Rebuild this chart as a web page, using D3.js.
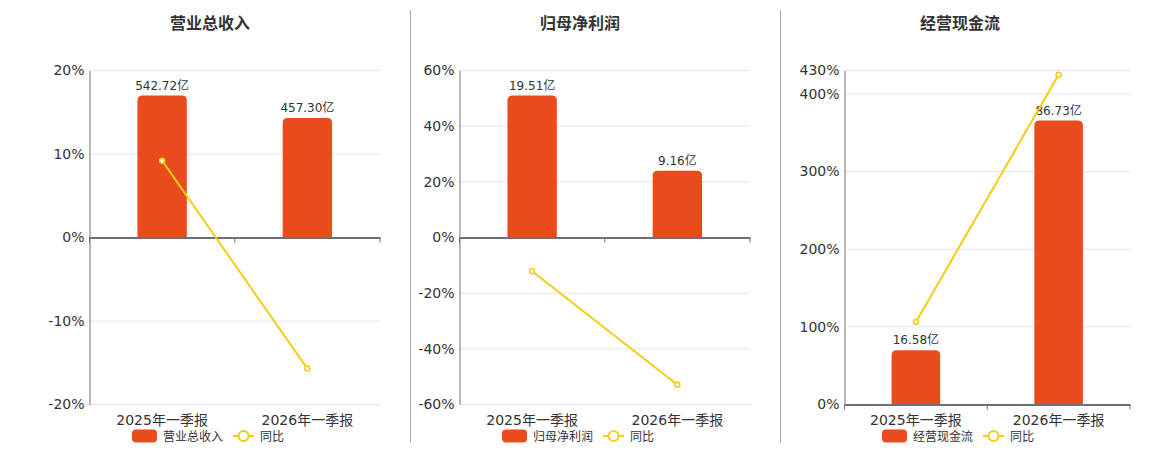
<!DOCTYPE html>
<html>
<head>
<meta charset="utf-8">
<script src="https://cdn.jsdelivr.net/npm/d3@7"></script>
<style>
  body { margin: 0; background: #fff; }
  svg { display: block; font-family: "DejaVu Sans", "Noto Sans CJK SC", sans-serif; }
</style>
</head>
<body>
<svg id="chart" width="1160" height="450"></svg>
<script>
// data
const categories = ["2025年一季报", "2026年一季报"];
const titles = ["营业总收入", "归母净利润", "经营现金流"];
const legendBar = ["营业总收入", "归母净利润", "经营现金流"];
const legendLine = "同比";

const revenue = [542.72, 457.30];
const revenueYoy = [9.2, -15.7];
const netProfit = [19.51, 9.16];
const netProfitYoy = [-12.1, -52.9];
const cashFlow = [16.58, 86.73];
const cashFlowYoy = [106.2, 424.5];

const ticks1 = [-20, -10, 0, 10, 20];
const ticks2 = [-60, -40, -20, 0, 20, 40, 60];
const ticks3 = [0, 100, 200, 300, 400, 430];

// layout of the three panels
const layout = [
  { left: 89.5, right: 380, center: 210 },
  { left: 459.5, right: 750, center: 580 },
  { left: 844.5, right: 1130, center: 960 },
];
const dividers = [410.5, 780.5];
const plotTop = 70.5, plotBottom = 404.5;

const barColor = "#e84c1c";
const lineColor = "#f4cd12";

const panels = [
  { bars: revenue, yoy: revenueYoy, ticks: ticks1 },
  { bars: netProfit, yoy: netProfitYoy, ticks: ticks2 },
  { bars: cashFlow, yoy: cashFlowYoy, ticks: ticks3 },
];

const svg = d3.select("#chart");

svg.selectAll(".divider")
  .data(dividers)
  .enter()
  .append("line")
  .attr("x1", d => d).attr("x2", d => d)
  .attr("y1", 10).attr("y2", 443)
  .attr("stroke", "#aaa")
  .attr("stroke-width", 1);

panels.forEach(function (p, i) {
  const L = layout[i];
  const g = svg.append("g");

  const yScale = d3.scaleLinear()
    .domain(d3.extent(p.ticks))
    .range([plotBottom, plotTop]);

  const xScale = d3.scaleBand()
    .domain(categories)
    .range([L.left, L.right]);

  // hidden amount axis, zero lined up with 0%
  const barMax = d3.max(p.bars) / 0.85;
  const barScale = d3.scaleLinear()
    .domain([0, barMax])
    .range([yScale(0), plotTop]);

  // title
  g.append("text")
    .attr("x", L.center)
    .attr("y", 29)
    .attr("text-anchor", "middle")
    .attr("font-size", 16)
    .attr("font-weight", "bold")
    .attr("font-family", "'Noto Sans CJK SC', sans-serif")
    .attr("fill", "#333")
    .text(titles[i]);

  // grid
  g.selectAll(".grid")
    .data(p.ticks)
    .enter()
    .append("line")
    .attr("x1", L.left).attr("x2", L.right)
    .attr("y1", d => yScale(d)).attr("y2", d => yScale(d))
    .attr("stroke", "#e0e6f1")
    .attr("stroke-width", 1);

  // left axis
  const yAxis = g.append("g")
    .attr("transform", "translate(" + L.left + ",0)")
    .call(d3.axisLeft(yScale).tickValues(p.ticks).tickSize(0).tickPadding(5).tickFormat(d => d + "%"));
  yAxis.select(".domain").attr("stroke", "#6e7079");
  yAxis.selectAll("text")
    .attr("font-size", 14)
    .attr("font-family", "'DejaVu Sans', sans-serif")
    .attr("fill", "#333");

  // bars with rounded tops
  const bw = xScale.bandwidth() * 0.34;
  const r = 5;
  g.selectAll(".bar")
    .data(p.bars)
    .enter()
    .append("path")
    .attr("d", function (d, j) {
      const x0 = xScale(categories[j]) + (xScale.bandwidth() - bw) / 2;
      const y0 = barScale(d), y1 = barScale(0);
      return "M" + x0 + "," + y1 +
        "V" + (y0 + r) +
        "Q" + x0 + "," + y0 + " " + (x0 + r) + "," + y0 +
        "H" + (x0 + bw - r) +
        "Q" + (x0 + bw) + "," + y0 + " " + (x0 + bw) + "," + (y0 + r) +
        "V" + y1 + "Z";
    })
    .attr("fill", barColor);

  g.selectAll(".barlabel")
    .data(p.bars)
    .enter()
    .append("text")
    .attr("x", (d, j) => xScale(categories[j]) + xScale.bandwidth() / 2)
    .attr("y", d => barScale(d) - 6)
    .attr("text-anchor", "middle")
    .attr("font-size", 12)
    .attr("fill", "#333")
    .text(d => d.toFixed(2) + "亿");

  // x axis at 0
  const xAxis = g.append("g")
    .attr("transform", "translate(0," + yScale(0) + ")")
    .call(d3.axisBottom(xScale).tickSize(0).tickFormat(""));
  xAxis.select(".domain").attr("stroke", "#6e7079").attr("stroke-width", 2);
  xAxis.selectAll(".tick").remove();
  g.selectAll(".xtick")
    .data([L.left, xScale(categories[1]), L.right])
    .enter()
    .append("line")
    .attr("x1", d => d).attr("x2", d => d)
    .attr("y1", yScale(0)).attr("y2", yScale(0) + 5)
    .attr("stroke", "#6e7079");

  // category labels
  g.selectAll(".xlabel")
    .data(categories)
    .enter()
    .append("text")
    .attr("x", d => xScale(d) + xScale.bandwidth() / 2)
    .attr("y", 425)
    .attr("text-anchor", "middle")
    .attr("font-size", 14)
    .attr("fill", "#333")
    .text(d => d);

  // yoy line
  const line = d3.line()
    .x((d, j) => xScale(categories[j]) + xScale.bandwidth() / 2)
    .y(d => yScale(d));
  g.append("path")
    .datum(p.yoy)
    .attr("d", line)
    .attr("fill", "none")
    .attr("stroke", lineColor)
    .attr("stroke-width", 2);
  g.selectAll(".pt")
    .data(p.yoy)
    .enter()
    .append("circle")
    .attr("cx", (d, j) => xScale(categories[j]) + xScale.bandwidth() / 2)
    .attr("cy", d => yScale(d))
    .attr("r", 2.5)
    .attr("fill", "#fff")
    .attr("stroke", lineColor)
    .attr("stroke-width", 1.5);

  // legend
  const lg = g.append("g").attr("transform", "translate(" + L.center + ",0)");
  lg.append("rect")
    .attr("x", -78).attr("y", 429.5)
    .attr("width", 25).attr("height", 13)
    .attr("rx", 4)
    .attr("fill", barColor);
  lg.append("text")
    .attr("x", -47).attr("y", 441)
    .attr("font-size", 12)
    .attr("fill", "#333")
    .text(legendBar[i]);
  lg.append("line")
    .attr("x1", 23).attr("x2", 44)
    .attr("y1", 436).attr("y2", 436)
    .attr("stroke", lineColor)
    .attr("stroke-width", 2);
  lg.append("circle")
    .attr("cx", 33.5).attr("cy", 436)
    .attr("r", 5)
    .attr("fill", "#fff")
    .attr("stroke", lineColor)
    .attr("stroke-width", 2);
  lg.append("text")
    .attr("x", 50).attr("y", 441)
    .attr("font-size", 12)
    .attr("fill", "#333")
    .text(legendLine);
});
</script>
</body>
</html>
